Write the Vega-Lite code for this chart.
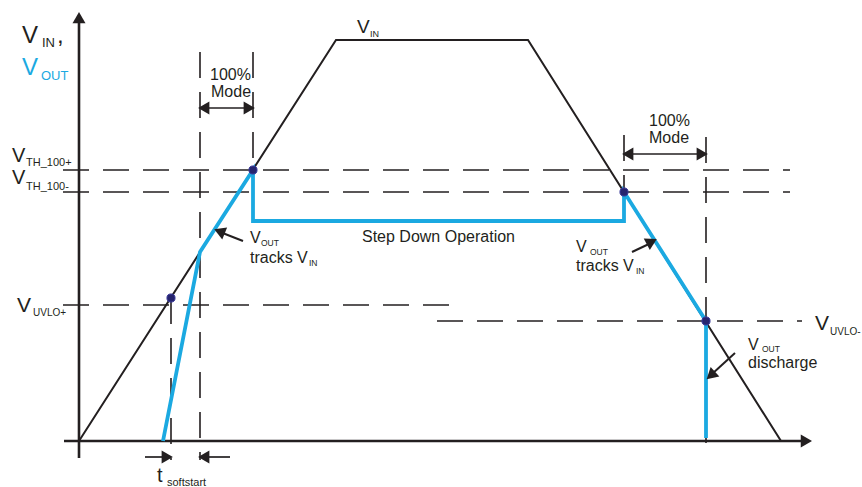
{
  "$schema": "https://vega.github.io/schema/vega-lite/v6.json",
  "width": 862,
  "height": 487,
  "padding": 0,
  "autosize": {"type": "none"},
  "background": "white",
  "config": {"view": {"stroke": null}, "text": {"font": "Liberation Sans"}},
  "datasets": {
    "vin": [
      {"t": 0, "v": 0, "i": 0},
      {"t": 257, "v": 401, "i": 1},
      {"t": 449, "v": 401, "i": 2},
      {"t": 702, "v": 0, "i": 3}
    ],
    "vout": [
      {"t": 84, "v": 0, "i": 0},
      {"t": 121, "v": 189, "i": 1},
      {"t": 174, "v": 271, "i": 2},
      {"t": 174, "v": 220, "i": 3},
      {"t": 545, "v": 220, "i": 4},
      {"t": 545, "v": 249, "i": 5},
      {"t": 627, "v": 120, "i": 6},
      {"t": 627, "v": 3, "i": 7}
    ],
    "dashed": [
      {"t": -16, "v": 271, "t2": 711, "v2": 271},
      {"t": -16, "v": 249, "t2": 711, "v2": 249},
      {"t": -16, "v": 136, "t2": 374, "v2": 136},
      {"t": 358, "v": 120, "t2": 723, "v2": 120},
      {"t": 92, "v": 143, "t2": 92, "v2": -19},
      {"t": 121, "v": 389, "t2": 121, "v2": -19},
      {"t": 174, "v": 389, "t2": 174, "v2": 271},
      {"t": 545, "v": 306, "t2": 545, "v2": 249},
      {"t": 627, "v": 304, "t2": 627, "v2": -14}
    ],
    "axes": [
      {"t": 0, "v": -17, "t2": 0, "v2": 420},
      {"t": -15, "v": 0, "t2": 724, "v2": 0}
    ],
    "axisHeadUp": [
      {"t": 0, "v": 423.4}
    ],
    "axisHeadRight": [
      {"t": 727.4, "v": 0}
    ],
    "dims": [
      {"t": 121, "v": 333, "t2": 174, "v2": 333},
      {"t": 545, "v": 287, "t2": 627, "v2": 287},
      {"t": 66, "v": -16, "t2": 92, "v2": -16},
      {"t": 121, "v": -16, "t2": 151, "v2": -16}
    ],
    "pointers": [
      {"t": 164, "v": 200, "t2": 141, "v2": 209},
      {"t": 553, "v": 189, "t2": 572, "v2": 198},
      {"t": 656, "v": 88, "t2": 633, "v2": 67}
    ],
    "heads": [
      {"t": 126.6, "v": 333, "ang": 270},
      {"t": 168.4, "v": 333, "ang": 90},
      {"t": 550.6, "v": 287, "ang": 270},
      {"t": 621.4, "v": 287, "ang": 90},
      {"t": 86.4, "v": -16, "ang": 90},
      {"t": 126.6, "v": -16, "ang": 270},
      {"t": 142.2, "v": 208.9, "ang": 292},
      {"t": 571.1, "v": 198.4, "ang": 62},
      {"t": 633.2, "v": 66.7, "ang": 228}
    ],
    "dots": [
      {"t": 92, "v": 143},
      {"t": 174, "v": 271},
      {"t": 545, "v": 249},
      {"t": 627, "v": 120}
    ],
    "labels": [
      {"s": "V", "t": -57, "v": 398, "kind": "main", "trace": "VIN"},
      {"s": "IN", "t": -37, "v": 394, "kind": "mainSub", "trace": "VIN"},
      {"s": ",", "t": -22, "v": 398, "kind": "main", "trace": "VIN"},
      {"s": "V", "t": -57, "v": 366, "kind": "main", "trace": "VOUT"},
      {"s": "OUT", "t": -38, "v": 361, "kind": "mainSub", "trace": "VOUT"},
      {"s": "V", "t": 278, "v": 408, "kind": "top", "trace": "VIN"},
      {"s": "IN", "t": 291, "v": 404, "kind": "topSub", "trace": "VIN"},
      {"s": "V", "t": -67, "v": 279, "kind": "th", "trace": "other"},
      {"s": "TH_100+", "t": -53, "v": 275, "kind": "thSub", "trace": "other"},
      {"s": "V", "t": -67, "v": 257, "kind": "th", "trace": "other"},
      {"s": "TH_100-", "t": -53, "v": 251, "kind": "thSub", "trace": "other"},
      {"s": "V", "t": -62, "v": 129, "kind": "uv", "trace": "other"},
      {"s": "UVLO+", "t": -46, "v": 125, "kind": "uvSub", "trace": "other"},
      {"s": "V", "t": 736, "v": 111, "kind": "uv", "trace": "other"},
      {"s": "UVLO-", "t": 751, "v": 106, "kind": "uvSub", "trace": "other"},
      {"s": "100%", "t": 131, "v": 361, "kind": "note", "trace": "other"},
      {"s": "Mode", "t": 132, "v": 344, "kind": "note", "trace": "other"},
      {"s": "100%", "t": 570, "v": 315, "kind": "note", "trace": "other"},
      {"s": "Mode", "t": 570, "v": 298, "kind": "note", "trace": "other"},
      {"s": "Step Down Operation", "t": 283, "v": 199, "kind": "note", "trace": "other"},
      {"s": "V", "t": 171, "v": 198, "kind": "note", "trace": "other"},
      {"s": "OUT", "t": 182, "v": 195, "kind": "noteSub", "trace": "other"},
      {"s": "tracks V", "t": 171, "v": 178, "kind": "note", "trace": "other"},
      {"s": "IN", "t": 230, "v": 175, "kind": "noteSub", "trace": "other"},
      {"s": "V", "t": 497, "v": 189, "kind": "note", "trace": "other"},
      {"s": "OUT", "t": 511, "v": 186, "kind": "noteSub", "trace": "other"},
      {"s": "tracks V", "t": 497, "v": 170, "kind": "note", "trace": "other"},
      {"s": "IN", "t": 557, "v": 167, "kind": "noteSub", "trace": "other"},
      {"s": "V", "t": 669, "v": 91, "kind": "note", "trace": "other"},
      {"s": "OUT", "t": 683, "v": 89, "kind": "noteSub", "trace": "other"},
      {"s": "discharge", "t": 669, "v": 73, "kind": "note", "trace": "other"},
      {"s": "t", "t": 78, "v": -41, "kind": "t", "trace": "other"},
      {"s": "softstart", "t": 88, "v": -45, "kind": "tSub", "trace": "other"}
    ]
  },
  "encoding": {
    "x": {"field": "t", "type": "quantitative", "scale": {"domain": [-79, 783], "nice": false, "zero": false}, "axis": null},
    "y": {"field": "v", "type": "quantitative", "scale": {"domain": [-46, 441], "nice": false, "zero": false}, "axis": null}
  },
  "layer": [
    {
      "data": {"name": "dashed"},
      "mark": {"type": "rule", "color": "#231f20", "strokeWidth": 1.6, "strokeDash": [26, 14]},
      "encoding": {"x2": {"field": "t2"}, "y2": {"field": "v2"}}
    },
    {
      "data": {"name": "axes"},
      "mark": {"type": "rule", "color": "#231f20", "strokeWidth": 2.6},
      "encoding": {"x2": {"field": "t2"}, "y2": {"field": "v2"}}
    },
    {
      "data": {"name": "axisHeadUp"},
      "mark": {"type": "point", "shape": "triangle-up", "filled": true, "color": "#231f20", "size": 169, "opacity": 1}
    },
    {
      "data": {"name": "axisHeadRight"},
      "mark": {"type": "point", "shape": "triangle-right", "filled": true, "color": "#231f20", "size": 169, "opacity": 1}
    },
    {
      "data": {"name": "vin"},
      "mark": {"type": "line", "color": "#231f20", "strokeWidth": 2},
      "encoding": {"order": {"field": "i", "type": "quantitative"}}
    },
    {
      "data": {"name": "vout"},
      "mark": {"type": "line", "color": "#1ba9e1", "strokeWidth": 3.8},
      "encoding": {"order": {"field": "i", "type": "quantitative"}}
    },
    {
      "data": {"name": "dots"},
      "mark": {"type": "circle", "size": 66, "color": "#26246e", "opacity": 1, "stroke": "#3b3b9a", "strokeWidth": 1}
    },
    {
      "data": {"name": "dims"},
      "mark": {"type": "rule", "color": "#231f20", "strokeWidth": 1.7},
      "encoding": {"x2": {"field": "t2"}, "y2": {"field": "v2"}}
    },
    {
      "data": {"name": "pointers"},
      "mark": {"type": "rule", "color": "#231f20", "strokeWidth": 2},
      "encoding": {"x2": {"field": "t2"}, "y2": {"field": "v2"}}
    },
    {
      "data": {"name": "heads"},
      "mark": {"type": "point", "shape": "triangle", "filled": true, "color": "#231f20", "size": 169, "opacity": 1},
      "encoding": {"angle": {"field": "ang", "type": "quantitative", "scale": null}}
    },
    {
      "data": {"name": "labels"},
      "mark": {"type": "text", "align": "left", "baseline": "alphabetic", "font": "Liberation Sans"},
      "encoding": {
        "text": {"field": "s", "type": "nominal"},
        "size": {
          "field": "kind", "type": "nominal", "legend": null,
          "scale": {
            "type": "ordinal",
            "domain": ["main", "mainSub", "top", "topSub", "th", "thSub", "uv", "uvSub", "note", "noteSub", "t", "tSub"],
            "range": [24, 13, 19, 9, 20, 11, 21, 10, 16, 8.5, 20, 11]
          }
        },
        "color": {
          "field": "trace", "type": "nominal", "legend": null,
          "scale": {"domain": ["VIN", "VOUT", "other"], "range": ["#231f20", "#1ba9e1", "#231f20"]}
        }
      }
    }
  ]
}
